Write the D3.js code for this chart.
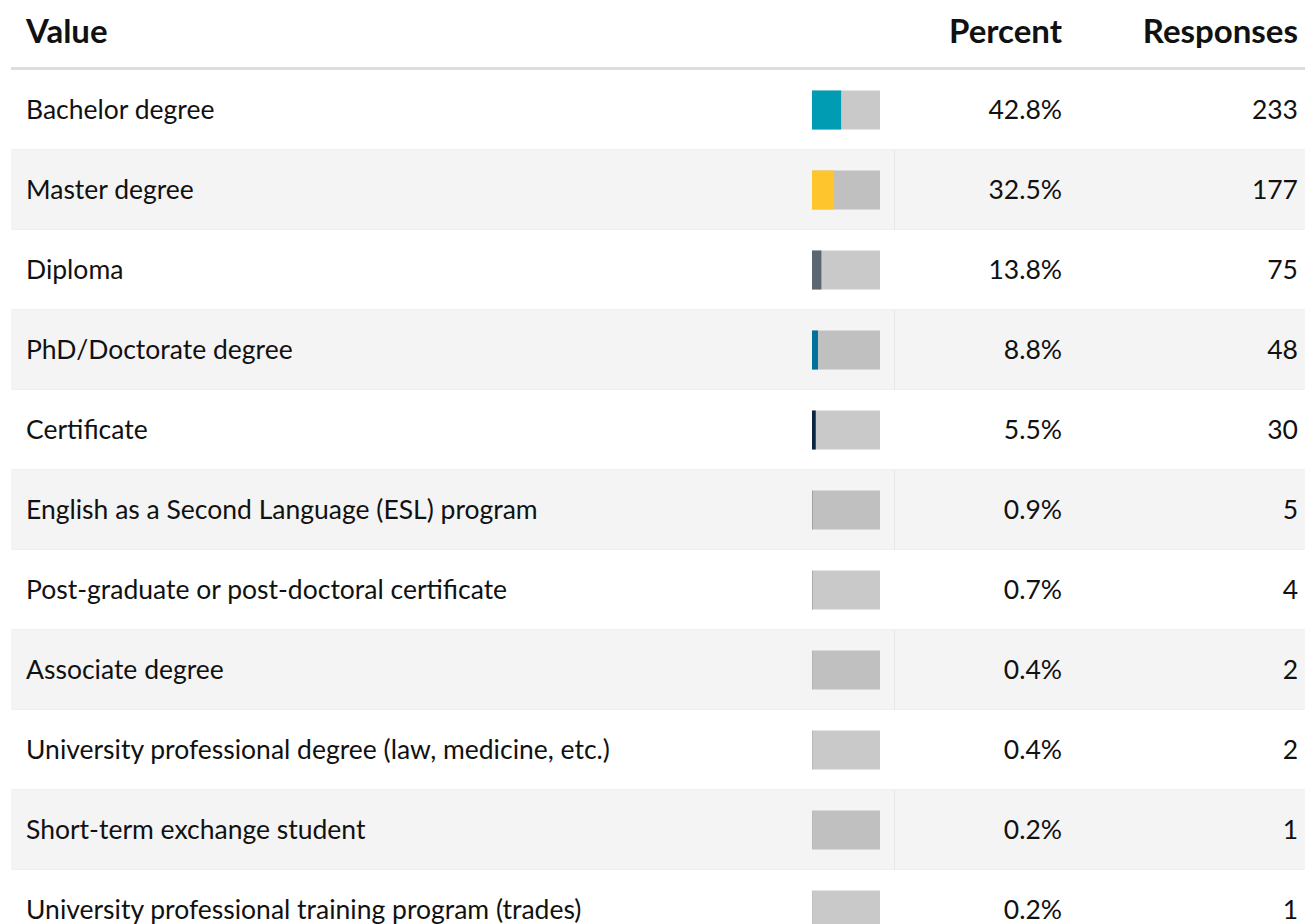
<!DOCTYPE html>
<html>
<head>
<meta charset="utf-8">
<script src="https://cdn.jsdelivr.net/npm/d3@7"></script>
<style>
  body { margin: 0; background: #fff; }
  svg text { font-family: Lato, "Open Sans", sans-serif; fill: #111; }
</style>
</head>
<body>
<svg width="1305" height="924"></svg>
<script>
// table data
var categories = ["Bachelor degree", "Master degree", "Diploma", "PhD/Doctorate degree", "Certificate",
    "English as a Second Language (ESL) program", "Post-graduate or post-doctoral certificate",
    "Associate degree", "University professional degree (law, medicine, etc.)",
    "Short-term exchange student", "University professional training program (trades)"];
var percents = [42.8, 32.5, 13.8, 8.8, 5.5, 0.9, 0.7, 0.4, 0.4, 0.2, 0.2];
var responses = [233, 177, 75, 48, 30, 5, 4, 2, 2, 1, 1];
var barColors = ["#009cb4", "#ffc52d", "#5a6670", "#00729a", "#0b2540",
    "#8a8f94", "#8a8f94", "#8a8f94", "#8a8f94", "#8a8f94", "#8a8f94"];
var headers = ["Value", "Percent", "Responses"];

var svg = d3.select("svg"),
    width = +svg.attr("width"),
    height = +svg.attr("height");

var leftX = 11, topY = 70, rowH = 80;

var y = d3.scaleBand()
    .domain(d3.range(categories.length))
    .range([topY, topY + rowH * categories.length])
    .padding(0);

var barX = d3.scaleLinear().domain([0, 100]).range([0, 68]);
var barLeft = 812, barH = 39;

// header
var head = svg.append("g").attr("class", "header");
head.append("text").attr("x", 26).attr("y", 43)
    .style("font-size", "33px").style("font-weight", "bold").text(headers[0]);
head.append("text").attr("x", 1062).attr("y", 43).attr("text-anchor", "end")
    .style("font-size", "33px").style("font-weight", "bold").text(headers[1]);
head.append("text").attr("x", 1298).attr("y", 43).attr("text-anchor", "end")
    .style("font-size", "33px").style("font-weight", "bold").text(headers[2]);
head.append("rect").attr("x", leftX).attr("y", 67).attr("width", width - leftX).attr("height", 3)
    .style("fill", "#dddddd");

// rows
var row = svg.selectAll(".row")
    .data(categories)
    .enter().append("g")
    .attr("class", "row")
    .attr("transform", function (d, i) { return "translate(0," + y(i) + ")"; });

row.append("rect")
    .attr("x", leftX).attr("width", width - leftX).attr("height", y.bandwidth())
    .style("fill", function (d, i) { return i % 2 ? "#f4f4f4" : "#ffffff"; });

// faint row border + cell divider
row.append("rect")
    .attr("x", leftX).attr("y", y.bandwidth() - 1).attr("width", width - leftX).attr("height", 1)
    .style("fill", "#f0f0f0");
row.filter(function (d, i) { return i % 2; }).append("rect")
    .attr("x", 894).attr("width", 1).attr("height", y.bandwidth())
    .style("fill", "#e6e6e6");

row.append("text")
    .attr("x", 26).attr("y", y.bandwidth() / 2).attr("dy", "0.35em")
    .style("font-size", "26.5px")
    .text(function (d) { return d; });

// little bars: gray track + coloured share
row.append("rect")
    .attr("x", barLeft).attr("y", (y.bandwidth() - barH) / 2)
    .attr("width", barX(100)).attr("height", barH)
    .style("fill", "rgba(0,0,0,0.21)");
row.append("rect")
    .attr("x", barLeft).attr("y", (y.bandwidth() - barH) / 2)
    .attr("width", function (d, i) { return barX(percents[i]); }).attr("height", barH)
    .style("fill", function (d, i) { return barColors[i]; });

row.append("text")
    .attr("x", 1062).attr("y", y.bandwidth() / 2).attr("dy", "0.35em")
    .attr("text-anchor", "end").style("font-size", "26.5px")
    .text(function (d, i) { return percents[i].toFixed(1) + "%"; });

row.append("text")
    .attr("x", 1298).attr("y", y.bandwidth() / 2).attr("dy", "0.35em")
    .attr("text-anchor", "end").style("font-size", "26.5px")
    .text(function (d, i) { return responses[i]; });
</script>
</body>
</html>
